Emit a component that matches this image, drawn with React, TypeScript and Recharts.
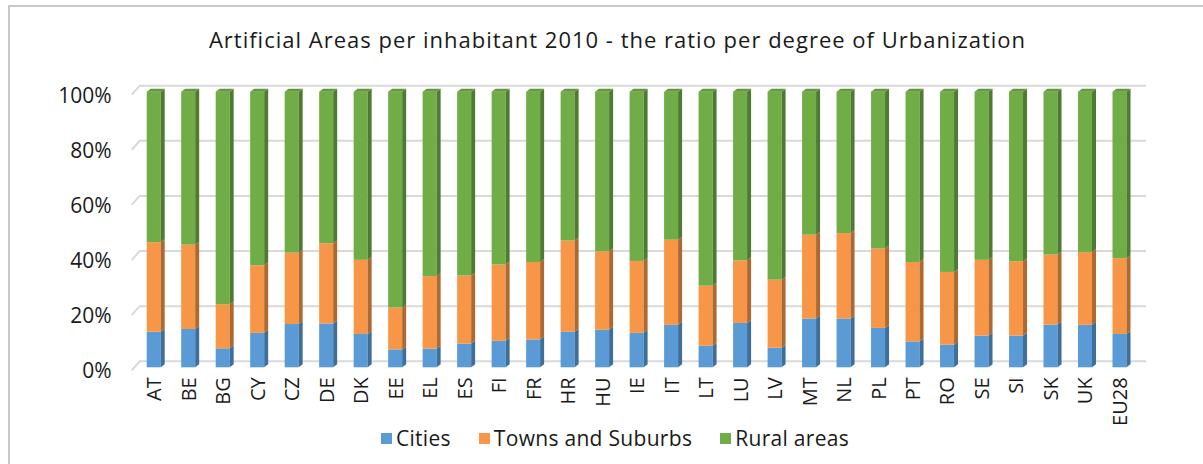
import React from "react";
import { Bar, BarChart, CartesianGrid, Legend, XAxis, YAxis } from "recharts";

const categories = [
  "AT", "BE", "BG", "CY", "CZ", "DE", "DK", "EE", "EL", "ES", "FI", "FR", "HR", "HU", "IE",
  "IT", "LT", "LU", "LV", "MT", "NL", "PL", "PT", "RO", "SE", "SI", "SK", "UK", "EU28",
];
// share of artificial area per inhabitant, in %
const cities = [
  12.9, 13.9, 6.9, 12.5, 15.7, 15.9, 12.1, 6.5, 6.8, 8.6, 9.6, 10.1, 12.9, 13.6, 12.5,
  15.4, 7.8, 16.1, 7.1, 17.7, 17.7, 14.3, 9.4, 8.2, 11.5, 11.5, 15.5, 15.4, 12.1,
];
const towns = [
  32.5, 30.6, 16.0, 24.5, 25.9, 29.1, 26.9, 15.2, 26.3, 24.7, 27.7, 28.1, 33.1, 28.5, 26.1,
  30.9, 21.8, 22.7, 24.7, 30.4, 31.0, 28.8, 28.8, 26.4, 27.5, 27.0, 25.4, 26.4, 27.5,
];
const rural = [
  54.6, 55.5, 77.1, 63.0, 58.4, 55.0, 61.0, 78.3, 66.9, 66.7, 62.7, 61.8, 54.0, 57.9, 61.4,
  53.7, 70.4, 61.2, 68.2, 51.9, 51.3, 56.9, 61.8, 65.4, 61.0, 61.5, 59.1, 58.2, 60.4,
];
const yTicks = [0, 0.2, 0.4, 0.6, 0.8, 1];

const data = categories.map((name, i) => ({
  name,
  cities: cities[i],
  towns: towns[i],
  rural: rural[i],
}));

const FONT = "'Open Sans', 'Noto Sans', sans-serif";
const TEXT = "#1a1a1a";
const DX = 4;
const DY = -3;

const series = [
  { key: "cities", label: "Cities", front: "#5B9BD5", side: "#3E6E9A", cap: "#4F86B8" },
  { key: "towns", label: "Towns and Suburbs", front: "#F79646", side: "#AE6930", cap: "#D98239" },
  { key: "rural", label: "Rural areas", front: "#70AD47", side: "#4E7B31", cap: "#63993D" },
];

function make3d(front: string, side: string, cap: string, withCap: boolean) {
  return (props: any) => {
    const { x, y, width, height } = props;
    if (!height || height <= 0) return <g />;
    const r = x + width;
    return (
      <g>
        <rect x={x} y={y} width={width} height={height} fill={front} />
        <polygon
          points={`${r},${y} ${r + DX},${y + DY} ${r + DX},${y + height + DY} ${r},${y + height}`}
          fill={side}
        />
        {withCap && (
          <polygon
            points={`${x},${y} ${x + DX},${y + DY} ${r + DX},${y + DY} ${r},${y}`}
            fill={cap}
          />
        )}
      </g>
    );
  };
}

// back-wall gridline with a short floor edge on the left, like Excel's 3D charts
function GridLine(props: any) {
  const { x1, x2, y1 } = props;
  return (
    <path
      d={`M${x1 - 5},${y1 + 3} L${x1 + 3},${y1 - 6} L${x2 + 9},${y1 - 6}`}
      stroke="#D9D9D9"
      strokeWidth={2}
      fill="none"
    />
  );
}

function YTick(props: any) {
  const { x, y, payload } = props;
  return (
    <text x={x} y={y + 3} textAnchor="end" dominantBaseline="central" fontSize={21} fill={TEXT} fontFamily={FONT}>
      {`${Math.round(payload.value * 100)}%`}
    </text>
  );
}

function XTick(props: any) {
  const { x, y, payload } = props;
  return (
    <text
      transform={`translate(${x},${y}) rotate(-90)`}
      textAnchor="end"
      dy="0.36em"
      fontSize={20}
      fill={TEXT}
      fontFamily={FONT}
    >
      {payload.value}
    </text>
  );
}

function LegendBox() {
  return (
    <div
      style={{
        height: 24,
        display: "flex",
        justifyContent: "center",
        alignItems: "center",
        gap: 28,
        fontFamily: FONT,
        fontSize: 21,
        letterSpacing: 0.3,
        color: TEXT,
        paddingLeft: 93,
      }}
    >
      {series.map((s) => (
        <div key={s.key} style={{ display: "flex", alignItems: "center", gap: 4 }}>
          <span style={{ width: 11, height: 11, background: s.front, display: "inline-block" }} />
          <span>{s.label}</span>
        </div>
      ))}
    </div>
  );
}

export default function App() {
  return (
    <div style={{ position: "fixed", left: 0, top: 0, width: 1203, height: 464, background: "#fff" }}>
      <div
        style={{
          position: "absolute",
          left: 8,
          top: 5,
          right: 0,
          bottom: 0,
          borderLeft: "2px solid #C8C8C8",
          borderTop: "2px solid #C8C8C8",
        }}
      />
      <div
        style={{
          position: "absolute",
          top: 24,
          left: 0,
          width: 1235,
          textAlign: "center",
          fontFamily: FONT,
          fontSize: 22,
          letterSpacing: 1,
          color: TEXT,
          whiteSpace: "nowrap",
        }}
      >
        Artificial Areas per inhabitant 2010 - the ratio per degree of Urbanization
      </div>
      <div style={{ position: "absolute", left: 0, top: 0 }}>
        <BarChart
          width={1203}
          height={464}
          data={data}
          stackOffset="expand"
          barSize={14}
          margin={{ top: 91.7, right: 66, bottom: 14, left: 0 }}
        >
          <CartesianGrid vertical={false} horizontal={(p: any) => <GridLine key={p.key ?? p.index} {...p} />} />
          <XAxis
            dataKey="name"
            interval={0}
            height={58.7}
            tickLine={false}
            axisLine={false}
            tickSize={0}
            tickMargin={10}
            tick={<XTick />}
          />
          <YAxis
            domain={[0, 1]}
            ticks={yTicks}
            width={136.7}
            tickLine={false}
            axisLine={false}
            tickSize={0}
            tickMargin={25}
            tick={<YTick />}
          />
          <Legend verticalAlign="bottom" height={24} content={() => <LegendBox />} />
          {series.map((s) => (
            <Bar
              key={s.key}
              dataKey={s.key}
              stackId="a"
              fill={s.front}
              isAnimationActive={false}
              shape={make3d(s.front, s.side, s.cap, s.key === "rural")}
            />
          ))}
        </BarChart>
      </div>
    </div>
  );
}
